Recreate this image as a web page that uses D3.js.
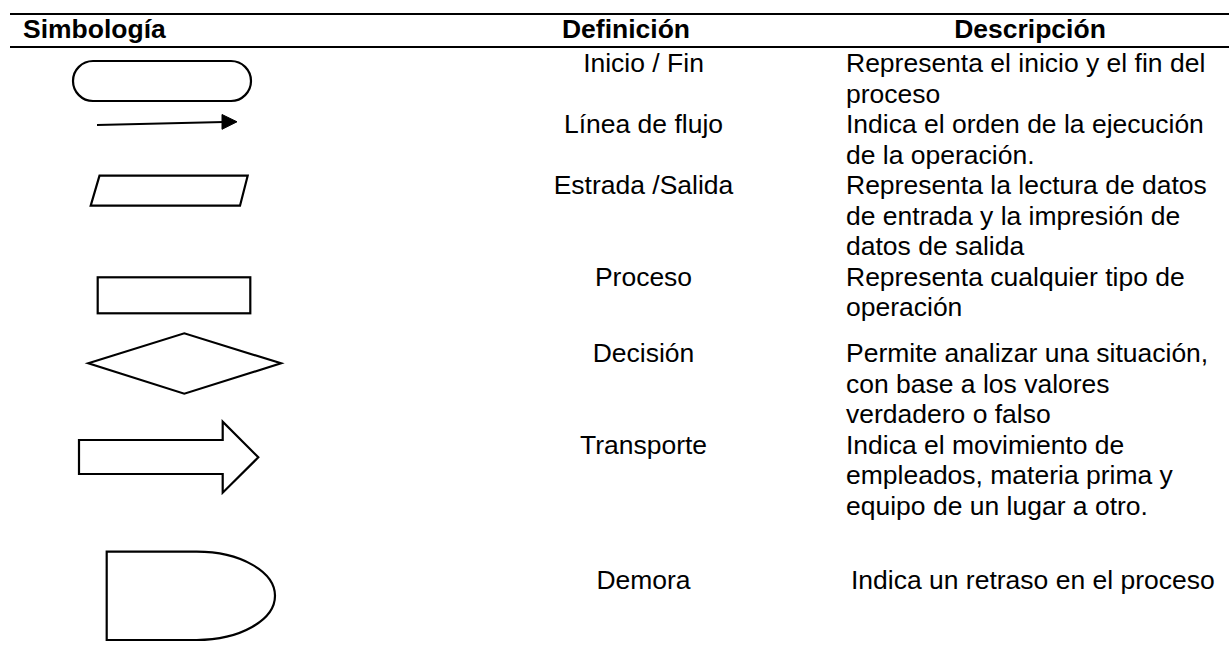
<!DOCTYPE html>
<html><head><meta charset="utf-8">
<script src="https://cdn.jsdelivr.net/npm/d3@7"></script>
<style>
html,body{margin:0;padding:0;background:#fff;}
svg{display:block;}
text{font-family:"Liberation Sans",Arial,sans-serif;fill:#000;}
</style></head>
<body>
<svg id="chart" width="1229" height="664"></svg>
<script>
// ---- data ----
const headers = ["Simbología", "Definición", "Descripción"];
const symbols = ["terminal", "flowline", "io", "process", "decision", "transport", "delay"];
const definitions = ["Inicio / Fin", "Línea de flujo", "Estrada /Salida", "Proceso", "Decisión", "Transporte", "Demora"];
const descriptions = [
  ["Representa el inicio y el fin del", "proceso"],
  ["Indica el orden de la ejecución", "de la operación."],
  ["Representa la lectura de datos", "de entrada y la impresión de", "datos de salida"],
  ["Representa cualquier tipo de", "operación"],
  ["Permite analizar una situación,", "con base a los valores", "verdadero o falso"],
  ["Indica el movimiento de", "empleados, materia prima y", "equipo de un lugar a otro."],
  ["Indica un retraso en el proceso"]
];

// ---- layout ----
const W = 1229, H = 664;
const rowBaselines = [72, 133, 194, 285.5, 362, 453.5, 589];
const lineH = 30.5;
const fs = 25, sx = 1.06;
const descX = 846, defX = 643.5;
const descDx = [0, 0, 0, 0, 0, 0, 5];

const svg = d3.select("#chart");
const yRow = d3.scaleOrdinal().domain(definitions).range(rowBaselines);

// rules
svg.append("line").attr("x1", 10).attr("x2", W).attr("y1", 14).attr("y2", 14)
  .attr("stroke", "#000").attr("stroke-width", 2.2);
svg.append("line").attr("x1", 10).attr("x2", W).attr("y1", 47).attr("y2", 47)
  .attr("stroke", "#000").attr("stroke-width", 2.2);

function txt(str, x, y, anchor, bold) {
  svg.append("text")
    .attr("transform", `translate(${x},${y}) scale(${sx},1)`)
    .attr("text-anchor", anchor)
    .attr("font-size", fs)
    .attr("font-weight", bold ? "bold" : "normal")
    .text(str);
}

// headers
const headerPos = [[23, "start"], [626, "middle"], [1030, "middle"]];
headers.forEach((h, i) => txt(h, headerPos[i][0], 37.5, headerPos[i][1], true));

// definitions & descriptions
definitions.forEach((d, i) => {
  const y = yRow(d);
  txt(d, defX, y, "middle", false);
  descriptions[i].forEach((line, j) => txt(line, descX + descDx[i], y + j * lineH, "start", false));
});

// symbols
const g = svg.append("g").attr("fill", "#fff").attr("stroke", "#000").attr("stroke-width", 2.2)
  .attr("stroke-linejoin", "miter");
const line = d3.line();

symbols.forEach(s => {
  if (s === "terminal") {
    g.append("rect").attr("x", 73).attr("y", 61).attr("width", 178).attr("height", 40)
      .attr("rx", 20).attr("ry", 20);
  } else if (s === "flowline") {
    g.append("path").attr("d", line([[97, 125], [224, 122]])).attr("fill", "none");
    g.append("path").attr("d", line([[222, 114.5], [237, 121.8], [222, 129.3]]) + "Z")
      .attr("fill", "#000").attr("stroke-width", 1);
  } else if (s === "io") {
    g.append("path").attr("d", line([[99.5, 175.7], [247.7, 175.7], [240, 205.7], [90.7, 205.7]]) + "Z");
  } else if (s === "process") {
    g.append("rect").attr("x", 97.7).attr("y", 277.3).attr("width", 152.6).attr("height", 36);
  } else if (s === "decision") {
    g.append("path").attr("d", line([[88.3, 363.3], [184.3, 333.3], [281, 363.3], [184.3, 393.7]]) + "Z");
  } else if (s === "transport") {
    g.append("path").attr("d", line([[79, 440], [222.7, 440], [222.7, 421.7], [258.3, 457.3],
      [222.7, 492.7], [222.7, 474], [79, 474]]) + "Z");
  } else if (s === "delay") {
    const p = d3.path();
    p.moveTo(106.7, 551.7);
    p.lineTo(196.7, 551.7);
    p.bezierCurveTo(196.7 + 78.3 * 0.5523 * 1.0, 551.7, 275, 595.8 - 44.1 * 0.5523, 275, 595.8);
    p.bezierCurveTo(275, 595.8 + 44.1 * 0.5523, 196.7 + 78.3 * 0.5523, 640, 196.7, 640);
    p.lineTo(106.7, 640);
    p.closePath();
    g.append("path").attr("d", p.toString());
  }
});
</script>
</body></html>
